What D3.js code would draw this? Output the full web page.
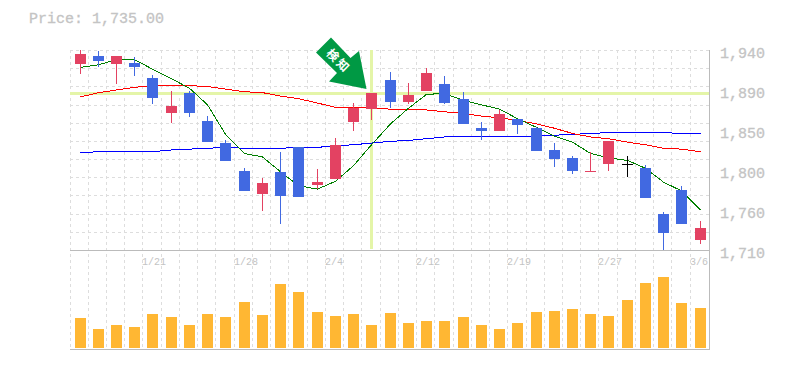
<!DOCTYPE html>
<html>
<head>
<meta charset="utf-8">
<script src="https://cdnjs.cloudflare.com/ajax/libs/d3/7.8.5/d3.min.js"></script>
<style>
    html, body { margin: 0; padding: 0; background: #fff; }
    svg { display: block; }
    text { font-family: "Liberation Mono", "DejaVu Sans Mono", monospace; }
</style>
</head>
<body>
<div id="chart"></div>
<script>

//daily prices, one entry per candle
const opens  = [1924,1933,1924,1925,1908,1868,1890,1858,1833,1801,1774,1800,1828,1785,1792,1857,1872,1906,1880,1893,1901,1884,1850,1847,1861,1850,1825,1816,1801,1809,1809,1804,1751,1779,1722];
const highs  = [1940,1939,1933,1932,1911,1893,1893,1864,1836,1804,1793,1823,1828,1803,1839,1879,1890,1915,1902,1919,1910,1892,1857,1871,1861,1851,1833,1818,1823,1835,1818,1808,1754,1784,1743];
const lows   = [1912,1921,1901,1910,1878,1856,1863,1834,1812,1778,1755,1740,1771,1780,1792,1847,1860,1873,1878,1893,1878,1855,1836,1847,1843,1824,1805,1797,1800,1801,1794,1770,1710,1740,1717];
const closes = [1935,1927,1933,1920,1885,1876,1868,1834,1812,1778,1787,1772,1771,1788,1831,1873,1890,1880,1888,1914,1879,1855,1847,1866,1854,1824,1815,1801,1801,1835,1809,1770,1730,1740,1735];
const volumes = [30,19,23,21,34,31,23,34,31,46,33,64,56,36,32,34,23,35,25,27,27,31,23,19,25,36,37,39,34,32,48,65,71,45,40];

//moving averages
const maShort = [1920,1923,1929,1929,1918,1907,1896,1877,1843,1821,1817,1800,1784,1780,1789,1807,1831,1855,1873,1889,1890,1882,1877,1872,1861,1851,1841,1834,1821,1816,1813,1804,1788,1778,1756];
const maMid   = [1886,1891,1894,1897,1899,1899,1899,1898,1895,1892,1891,1887,1884,1879,1874,1874,1873,1872,1872,1871,1869,1867,1864,1862,1859,1855,1850,1844,1840,1838,1834,1831,1827,1826,1823];
const maLong  = [1822,1823,1823,1823,1823,1825,1826,1827,1828,1827,1827,1827,1828,1828,1830,1831,1833,1835,1836,1838,1840,1840,1840,1840,1841,1841,1842,1843,1844,1845,1845,1845,1845,1844,1844];

//axis labels
const dateLabels = {4: "1/21", 9: "1/28", 14: "2/4", 19: "2/12", 24: "2/19", 29: "2/27", 34: "3/6"};
const priceTicks = [1940,1894,1848,1802,1756,1710];
const signalIndex = 16;
const signalText = ["検", "知"];

const width = 785, height = 370;

const svg = d3.select("#chart").append("svg")
    .attr("width", width)
    .attr("height", height);

//scales
const days = d3.range(closes.length);

const x = d3.scaleBand()
    .domain(days)
    .range([70, 70 + 18.24 * days.length]);

const y = d3.scaleLinear()
    .domain([1710, 1940])
    .range([250, 50]);

const yVol = d3.scaleLinear()
    .domain([0, 100])
    .range([348, 248]);

const candleLeft = i => Math.floor(x(i) + 5);
const candleMid = i => candleLeft(i) + 5.5;
const py = v => Math.round(y(v));

//grid
const grid = svg.append("g")
    .attr("stroke", "#dddddd")
    .attr("stroke-dasharray", "3,3")
    .attr("shape-rendering", "crispEdges");

days.forEach(i => {
    grid.append("line")
        .attr("x1", Math.floor(x(i)) + 0.5)
        .attr("x2", Math.floor(x(i)) + 0.5)
        .attr("y1", 50)
        .attr("y2", 349);
});

d3.range(0, 11).forEach(k => {
    grid.append("line")
        .attr("x1", 70)
        .attr("x2", 709)
        .attr("y1", Math.round(50 + k * 200 / 11) + 0.5)
        .attr("y2", Math.round(50 + k * 200 / 11) + 0.5);
});

//crosshair on the signal day
svg.append("line")
    .attr("x1", 70)
    .attr("x2", 709)
    .attr("y1", py(closes[signalIndex]) + 0.5)
    .attr("y2", py(closes[signalIndex]) + 0.5)
    .attr("stroke", "#e4f5a8")
    .attr("stroke-width", 3)
    .attr("shape-rendering", "crispEdges");

svg.append("line")
    .attr("x1", candleMid(signalIndex))
    .attr("x2", candleMid(signalIndex))
    .attr("y1", 50)
    .attr("y2", 249)
    .attr("stroke", "#e4f5a8")
    .attr("stroke-width", 3)
    .attr("shape-rendering", "crispEdges");

//frame
const frame = svg.append("g")
    .attr("stroke", "#bbbbbb")
    .attr("shape-rendering", "crispEdges");

frame.append("line").attr("x1", 70).attr("x2", 710).attr("y1", 250.5).attr("y2", 250.5);
frame.append("line").attr("x1", 70).attr("x2", 710).attr("y1", 349.5).attr("y2", 349.5);
frame.append("line").attr("x1", 709.5).attr("x2", 709.5).attr("y1", 50).attr("y2", 350);

//moving average lines, under the candles
const line = d3.line()
    .x((d, i) => candleMid(i))
    .y(d => y(d))
    .curve(d3.curveLinear);

[[maLong, "#0000ff"], [maMid, "#ff0000"], [maShort, "#007f00"]].forEach(s => {
    svg.append("path")
        .datum(s[0])
        .attr("fill", "none")
        .attr("stroke", s[1])
        .attr("stroke-width", 1)
        .attr("shape-rendering", "crispEdges")
        .attr("d", line);
});

//candles
const candleColor = i => {
    if (i == 30) return "#000000";
    return closes[i] >= opens[i] ? "#e34262" : "#4169e1";
};

const candles = svg.selectAll(".candle")
    .data(days)
    .enter()
    .append("g")
    .attr("class", "candle")
    .attr("fill", d => candleColor(d))
    .attr("shape-rendering", "crispEdges");

candles.append("rect")
    .attr("x", d => candleLeft(d) + 5)
    .attr("width", 1)
    .attr("y", d => py(highs[d]))
    .attr("height", d => py(lows[d]) - py(highs[d]));

candles.append("rect")
    .attr("x", d => candleLeft(d))
    .attr("width", 11)
    .attr("y", d => py(Math.max(opens[d], closes[d])))
    .attr("height", d => Math.max(1, py(Math.min(opens[d], closes[d])) - py(Math.max(opens[d], closes[d]))));

//volume bars
svg.selectAll(".vol")
    .data(days)
    .enter()
    .append("rect")
    .attr("class", "vol")
    .attr("x", d => candleLeft(d))
    .attr("width", 11)
    .attr("y", d => yVol(volumes[d]))
    .attr("height", d => yVol(0) - yVol(volumes[d]))
    .attr("fill", "#ffb733")
    .attr("shape-rendering", "crispEdges");

//price axis
const yAxis = d3.axisRight(y)
    .tickValues(priceTicks)
    .tickSize(0)
    .tickPadding(0)
    .tickFormat(d => d3.format(",")(Math.round(d / 10) * 10));

svg.append("g")
    .attr("transform", "translate(720,3)")
    .call(yAxis)
    .call(g => g.select(".domain").remove())
    .selectAll("text")
    .attr("fill", "#c4c4c4")
    .attr("stroke", "#c4c4c4")
    .attr("stroke-width", 0.3)
    .style("font-family", '"Liberation Mono", monospace')
    .style("font-size", "15px");

//date labels
const xAxis = d3.axisBottom(x)
    .tickValues(Object.keys(dateLabels).map(Number))
    .tickSize(0)
    .tickPadding(0)
    .tickFormat(d => dateLabels[d]);

svg.append("g")
    .attr("transform", "translate(0,258)")
    .call(xAxis)
    .call(g => g.select(".domain").remove())
    .selectAll("text")
    .attr("text-anchor", "start")
    .attr("x", d => candleLeft(d) - 5 - x(d) - x.bandwidth() / 2)
    .attr("fill", "#c4c4c4")
    .style("font-family", '"Liberation Mono", monospace')
    .style("font-size", "10px");

//current price
svg.append("text")
    .attr("x", 29)
    .attr("y", 23)
    .attr("fill", "#c4c4c4")
    .attr("stroke", "#c4c4c4")
    .attr("stroke-width", 0.3)
    .style("font-size", "15px")
    .text("Price: " + d3.format(",.2f")(closes[closes.length - 1]));

//signal arrow, tip sits just above the signal candle
const tipX = candleMid(signalIndex) - 5;
const tipY = py(closes[signalIndex]) - 4;

const arrow = svg.append("g")
    .attr("transform", "translate(" + tipX + "," + tipY + ")");

arrow.append("path")
    .attr("d", "M-50.5,-36.5 L-35.5,-51.5 L-16,-31 L-7.5,-38 L0,0 L-37.5,-7.5 L-29.5,-16 Z")
    .attr("fill", "#009944");

signalText.forEach((t, i) => {
    arrow.append("text")
        .attr("transform", "translate(" + (-33.5 + i * 10) + "," + (-34 + i * 10) + ") rotate(45)")
        .attr("text-anchor", "middle")
        .attr("dy", "0.38em")
        .attr("fill", "#ffffff")
        .style("font-family", '"Noto Sans CJK JP", sans-serif')
        .style("font-weight", "bold")
        .style("font-size", "12px")
        .text(t);
});

</script>
</body>
</html>
